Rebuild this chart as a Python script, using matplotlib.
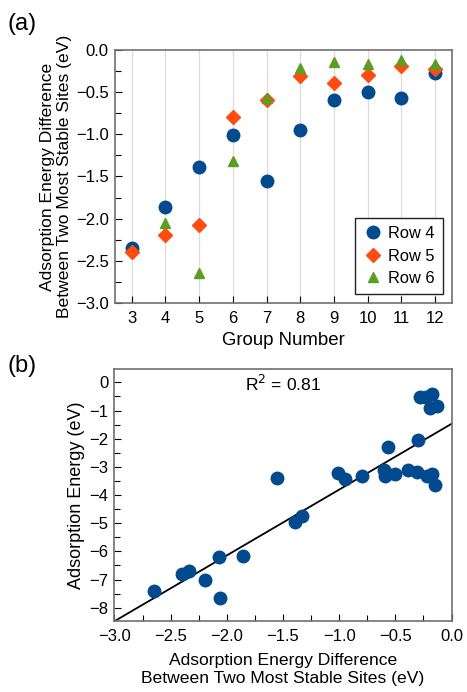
import numpy as np
import matplotlib.pyplot as plt
from matplotlib.ticker import MultipleLocator

plt.rcParams['font.family'] = ['Liberation Sans', 'DejaVu Sans']
plt.rcParams['font.size'] = 12

# (a) energy difference per group, one list per row of the periodic table
groups = [3, 4, 5, 6, 7, 8, 9, 10, 11, 12]
row4 = [-2.35, -1.86, -1.39, -1.01, -1.55, -0.95, -0.60, -0.50, -0.57, -0.27]
row5 = [-2.39, -2.19, -2.07, -0.80, -0.59, -0.31, -0.39, -0.30, -0.19, -0.23]
groups6 = [4, 5, 6, 7, 8, 9, 10, 11, 12]
row6 = [-2.05, -2.64, -1.32, -0.57, -0.21, -0.14, -0.17, -0.12, -0.17]

# (b) adsorption energy against the energy difference
diff = [-2.65, -2.40, -2.34, -2.19, -2.07, -2.06, -1.86, -1.55, -1.39, -1.33,
        -1.01, -0.95, -0.80, -0.60, -0.59, -0.57, -0.58, -0.50, -0.39, -0.31,
        -0.30, -0.22, -0.17, -0.15, -0.28, -0.23, -0.17, -0.19, -0.13]
eads = [-7.41, -6.81, -6.70, -7.03, -6.19, -7.64, -6.15, -3.38, -4.97, -4.73,
        -3.20, -3.43, -3.31, -3.11, -3.34, -2.31, -3.22, -3.26, -3.11, -3.19,
        -2.04, -3.34, -3.26, -3.63, -0.53, -0.53, -0.41, -0.91, -0.85]
r2_text = "R$^2$ = 0.81"

blue = "#024a8e"
orange = "#ff4d12"
green = "#5a9e22"
spine_gray = "#707070"
lab_fs = 12.6

fig = plt.figure(figsize=(4.67, 6.92), dpi=100)
ax1 = fig.add_axes([0.246, 0.562, 0.722, 0.366])
ax2 = fig.add_axes([0.245, 0.1026, 0.722, 0.364])


def style_axes(ax):
    for s in ax.spines.values():
        s.set_color(spine_gray)
        s.set_linewidth(1.2)
    ax.tick_params(which='both', direction='in', color='black', width=0.8,
                   top=False, right=False, labelsize=12)
    ax.tick_params(which='major', length=5)
    ax.tick_params(which='minor', length=4)
    ax.tick_params(axis='x', which='major', pad=6)
    ax.tick_params(axis='y', which='major', pad=4.5)


# panel (a)
for g in groups:
    ax1.axvline(g, color="#dcdcdc", lw=0.9, zorder=0)
ax1.plot(groups, row4, 'o', color=blue, ms=9, label="Row 4", zorder=3)
ax1.plot(groups, row5, 'D', color=orange, ms=6.8, label="Row 5", zorder=4)
ax1.plot(groups6, row6, '^', color=green, ms=7.8, label="Row 6", zorder=5)
ax1.set_xlim(2.5, 12.5)
ax1.set_ylim(-3.0, 0.0)
ax1.set_xticks(groups)
ax1.yaxis.set_major_locator(MultipleLocator(0.5))
ax1.yaxis.set_minor_locator(MultipleLocator(0.25))
ax1.yaxis.set_major_formatter(lambda v, p: f"{v:.1f}".replace("-", "\u2212"))
ax1.set_xlabel("Group Number", fontsize=13.4, labelpad=4)
ax1.set_ylabel("Adsorption Energy Difference\nBetween Two Most Stable Sites (eV)",
               fontsize=lab_fs, labelpad=3, linespacing=1.1)
style_axes(ax1)
leg = ax1.legend(loc='lower right', fancybox=False, edgecolor='#222222',
                 framealpha=1, fontsize=11.8, handletextpad=0.35,
                 borderpad=0.5, labelspacing=0.45, handlelength=1.2,
                 borderaxespad=0.55)
leg.get_frame().set_linewidth(1.0)
fig.text(0.016, 0.966, "(a)", fontsize=17, va='center')

# panel (b) with least squares line
slope, icpt = np.polyfit(diff, eads, 1)
xs = np.array([-3.0, 0.0])
ax2.plot(xs, slope * xs + icpt, color='black', lw=1.3, zorder=2)
ax2.plot(diff, eads, 'o', color=blue, ms=9, zorder=3)
ax2.set_xlim(-3.0, 0.0)
ax2.set_ylim(-8.47, 0.47)
ax2.xaxis.set_major_locator(MultipleLocator(0.5))
ax2.xaxis.set_minor_locator(MultipleLocator(0.25))
ax2.yaxis.set_major_locator(MultipleLocator(1))
ax2.yaxis.set_minor_locator(MultipleLocator(0.5))
ax2.xaxis.set_major_formatter(lambda v, p: f"{v:.1f}".replace("-", "\u2212"))
ax2.yaxis.set_major_formatter(lambda v, p: f"{v:.0f}".replace("-", "\u2212"))
ax2.set_xlabel("Adsorption Energy Difference\nBetween Two Most Stable Sites (eV)",
               fontsize=lab_fs, labelpad=6, linespacing=1.3)
ax2.set_ylabel("Adsorption Energy (eV)", fontsize=13, labelpad=3)
style_axes(ax2)
ax2.text(0.5, 0.94, r2_text, transform=ax2.transAxes, ha='center', va='center',
         fontsize=lab_fs)
fig.text(0.016, 0.471, "(b)", fontsize=17, va='center')

fig.savefig("out.png", dpi=100)
